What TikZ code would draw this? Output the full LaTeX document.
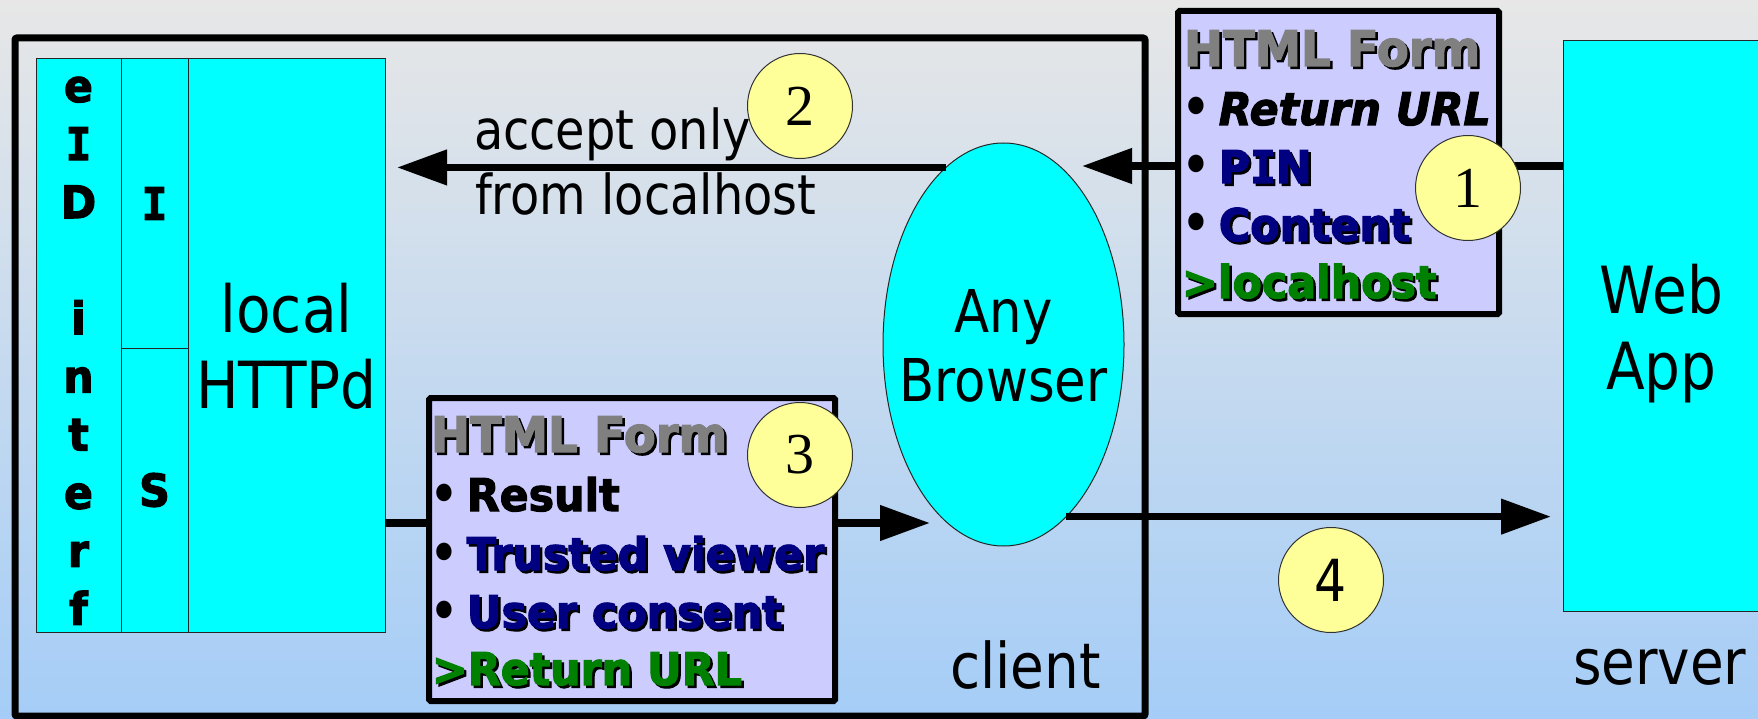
\documentclass[tikz,border=0pt]{standalone}
\usepackage{fontspec}
\usetikzlibrary{shapes.geometric,arrows.meta}
\newfontfamily\regfont{DejaVu Sans}[FakeStretch=0.87]
\newfontfamily\boldfont{DejaVu Sans}[FakeStretch=0.95, BoldFeatures={FakeBold=2.5}, BoldItalicFeatures={FakeBold=2.5}]
\newfontfamily\slabfont{DejaVu Sans Mono}[FakeStretch=0.95, BoldFeatures={FakeBold=2.5}]
\newfontfamily\numfont{Liberation Serif}
\definecolor{bgtop}{HTML}{E7E7E7}
\definecolor{bgbot}{HTML}{A5CDF7}
\definecolor{formfill}{HTML}{CCCCFF}
\definecolor{badgeyellow}{HTML}{FFFF99}
\definecolor{boxcyan}{HTML}{00FFFF}
\definecolor{formgray}{HTML}{808080}
\definecolor{formnavy}{HTML}{000080}
\definecolor{formgreen}{HTML}{008000}
% bold form text with a dark drop shadow
\newcommand\shadowed[2]{\makebox[0pt][l]{\hspace{2.5pt}\raisebox{-2.5pt}{\color{black}#2}}\textcolor{#1}{#2}}
% serifed capital I, as in the bold face used here
\newcommand\slabI{{\slabfont\bfseries I}}
% list bullet
\newcommand\dotmark{{\regfont\fontsize{50pt}{58pt}\selectfont •}\hspace{9pt}}
\tikzset{
  every node/.style={inner sep=0pt, outer sep=0pt},
  module/.style={draw=black!85, line width=1pt, fill=boxcyan},
  formbox/.style={draw=black, line width=6pt, fill=formfill, rounded corners=1.5pt},
  badge/.style={circle, draw=black!80, line width=1pt, fill=badgeyellow, minimum size=105pt},
  flow/.style={line width=7.5pt, -{Triangle[length=50pt,width=34pt]}},
  bigtext/.style={font=\regfont\fontsize{65pt}{76pt}\selectfont, align=center},
  midtext/.style={font=\regfont\fontsize{59pt}{69pt}\selectfont, align=center},
  labeltext/.style={font=\regfont\fontsize{55pt}{65pt}\selectfont, anchor=base west},
  placetext/.style={font=\regfont\fontsize{63pt}{70pt}\selectfont, anchor=base west},
  formtitle/.style={font=\boldfont\bfseries\fontsize{49pt}{58pt}\selectfont, anchor=base west},
  formline/.style={font=\boldfont\bfseries\fontsize{45pt}{58pt}\selectfont, anchor=base west},
  stackletter/.style={font=\boldfont\bfseries\fontsize{45pt}{58pt}\selectfont},
  numserif/.style={font=\numfont\fontsize{58pt}{60pt}\selectfont},
  numsans/.style={font=\regfont\fontsize{58pt}{60pt}\selectfont},
}
\begin{document}
\begin{tikzpicture}[x=1pt,y=-1pt]
\useasboundingbox (0,0) rectangle (1758,719);
\shade[top color=bgtop, bottom color=bgbot] (0,0) rectangle (1758,719);

% client frame
\node[draw, line width=7pt, rounded corners=2pt, minimum width=1130pt, minimum height=678pt, anchor=north west] (client) at (15,38) {};

% eID interface stack
\node[module, anchor=north west, minimum width=85pt, minimum height=573pt] (eid) at (36,59) {};
\node[module, anchor=north west, minimum width=67pt, minimum height=289pt] (icell) at (121,59) {};
\node[module, anchor=north west, minimum width=67pt, minimum height=284pt] (scell) at (121,348) {};
\node[module, anchor=north west, minimum width=197pt, minimum height=573pt] (httpd) at (188,59) {};
\foreach \ch/\k in {e/0,\slabI/1,D/2,i/4,n/5,t/6,e/7,r/8,f/9}
  \node[stackletter, anchor=base] (eid\k) at (78.5,{102+58.1*\k}) {\ch};
\node[stackletter] (ilabel) at (icell.center) {\slabI};
\node[stackletter] (slabel) at (scell.center) {S};
\node[bigtext] (httpdlabel) at (286.5,346.5) {local\\HTTPd};

% server side
\node[module, anchor=north west, minimum width=210pt, minimum height=570pt] (webapp) at (1563,41) {};
\node[bigtext] (webapplabel) at (1661.5,333.5) {Web\\App};

% browser
\node[ellipse, draw=black!85, line width=1pt, fill=boxcyan, minimum width=241pt, minimum height=403pt] (browser) at (1003.5,344.5) {};
\node[midtext] (browserlabel) at (1003.5,346) {Any\\Browser};

% arrow end points
\coordinate (tip1) at (1082,166);
\coordinate (tip2) at (397,167);
\coordinate (tip3) at (930,523);
\coordinate (tip4) at (1551,519);

% message flow
\draw[flow] (webapp.west |- tip1) -- (tip1);
\draw[flow] (browser.108) -- (browser.108 -| tip2);
\draw[flow] (httpd.east |- tip3) -- (tip3);
\draw[flow] (browser.-70.6) -- (browser.-70.6 -| tip4);

\node[labeltext] (accept) at (474,150) {accept only};
\node[labeltext] (fromlh) at (475,215) {from localhost};

% request form
\node[formbox, anchor=north west, minimum width=321pt, minimum height=303pt] (form1) at (1178,11) {};
\node[formtitle] (f1title) at (1184,66) {\shadowed{formgray}{HTML Form}};
\node[formline] (f1a) at (1182,125) {\dotmark\textit{Return URL}};
\node[formline] (f1b) at (1182,183) {\dotmark\shadowed{formnavy}{P\slabI N}};
\node[formline] (f1c) at (1182,241) {\dotmark\shadowed{formnavy}{Content}};
\node[formline] (f1d) at (1182,298) {\shadowed{formgreen}{>localhost}};

% response form
\node[formbox, anchor=north west, minimum width=406pt, minimum height=303pt] (form3) at (429,398) {};
\node[formtitle] (f3title) at (431,452) {\shadowed{formgray}{HTML Form}};
\node[formline] (f3a) at (430,511) {\dotmark Result};
\node[formline] (f3b) at (430,570) {\dotmark\shadowed{formnavy}{Trusted viewer}};
\node[formline] (f3c) at (430,628) {\dotmark\shadowed{formnavy}{User consent}};
\node[formline] (f3d) at (432,685) {\shadowed{formgreen}{>Return URL}};

% step badges
\node[badge] (step1) at (1468,188) {};
\node[numserif] (step1n) at (step1.center) {1};
\node[badge] (step2) at (800,106) {};
\node[numserif] (step2n) at (step2.center) {2};
\node[badge] (step3) at (800,455) {};
\node[numserif] (step3n) at (step3.center) {3};
\node[badge] (step4) at (1331,580) {};
\node[numsans] (step4n) at (step4.center) {4};

% place labels
\node[placetext] (clientlabel) at (950,688) {client};
\node[placetext] (serverlabel) at (1573,684) {server};
\end{tikzpicture}
\end{document}
